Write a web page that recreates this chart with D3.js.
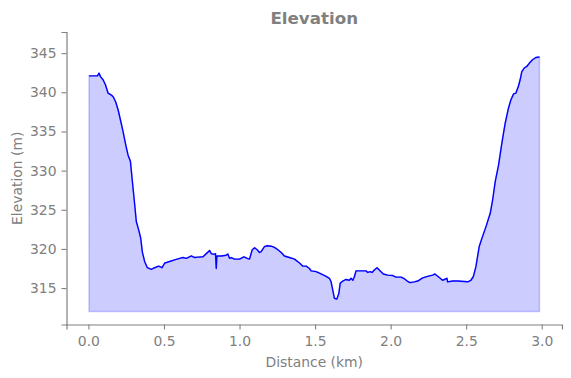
<!DOCTYPE html>
<html>
<head>
<meta charset="utf-8">
<script src="https://cdn.jsdelivr.net/npm/d3@7"></script>
<style>
  body { margin: 0; background: #fff; }
  text { font-family: "DejaVu Sans", sans-serif; fill: #808080; }
</style>
</head>
<body>
<div id="chart"></div>
<script>
// distance along the route (km)
const dist = [0.004, 0.06, 0.07, 0.08, 0.097, 0.112, 0.13, 0.155, 0.165, 0.18, 0.196, 0.214, 0.229, 0.247, 0.262, 0.278, 0.289, 0.302, 0.317, 0.333, 0.346, 0.357, 0.372, 0.39, 0.416, 0.438, 0.465, 0.487, 0.505, 0.522, 0.537, 0.57, 0.604, 0.626, 0.648, 0.681, 0.703, 0.725, 0.758, 0.78, 0.802, 0.813, 0.831, 0.841, 0.846, 0.85, 0.879, 0.912, 0.923, 0.934, 0.945, 0.967, 1.0, 1.029, 1.051, 1.066, 1.084, 1.1, 1.117, 1.132, 1.143, 1.165, 1.183, 1.21, 1.231, 1.254, 1.276, 1.297, 1.33, 1.364, 1.397, 1.419, 1.441, 1.463, 1.474, 1.507, 1.54, 1.573, 1.595, 1.606, 1.617, 1.628, 1.644, 1.657, 1.666, 1.683, 1.705, 1.727, 1.738, 1.75, 1.76, 1.771, 1.804, 1.837, 1.849, 1.864, 1.877, 1.892, 1.91, 1.93, 1.952, 1.981, 2.014, 2.036, 2.069, 2.09, 2.11, 2.128, 2.157, 2.179, 2.212, 2.245, 2.278, 2.293, 2.322, 2.344, 2.373, 2.377, 2.41, 2.443, 2.51, 2.531, 2.547, 2.564, 2.586, 2.604, 2.631, 2.659, 2.675, 2.692, 2.714, 2.736, 2.758, 2.78, 2.796, 2.814, 2.829, 2.846, 2.857, 2.868, 2.884, 2.901, 2.917, 2.939, 2.961, 2.985];
// elevation (m)
const elev = [342.1, 342.1, 342.45, 342.0, 341.6, 341.0, 339.9, 339.6, 339.4, 338.8, 337.8, 336.3, 335.0, 333.3, 332.0, 331.2, 329.0, 326.5, 323.5, 322.4, 321.4, 319.6, 318.4, 317.6, 317.4, 317.6, 317.8, 317.6, 318.2, 318.3, 318.4, 318.6, 318.8, 318.9, 318.8, 319.1, 318.9, 318.95, 319.0, 319.4, 319.8, 319.4, 319.3, 319.4, 317.5, 319.1, 319.1, 319.2, 319.35, 318.8, 318.9, 318.7, 318.7, 319.0, 318.8, 318.7, 319.9, 320.15, 319.9, 319.55, 319.65, 320.3, 320.4, 320.35, 320.2, 319.9, 319.55, 319.1, 318.9, 318.7, 318.2, 317.8, 317.8, 317.5, 317.2, 317.1, 316.8, 316.5, 316.25, 315.8, 314.75, 313.7, 313.6, 314.3, 315.6, 315.9, 316.1, 316.0, 316.25, 316.0, 316.45, 317.2, 317.2, 317.2, 317.0, 317.1, 317.0, 317.3, 317.6, 317.2, 316.8, 316.65, 316.6, 316.4, 316.4, 316.2, 315.9, 315.7, 315.8, 315.9, 316.3, 316.5, 316.65, 316.8, 316.35, 316.0, 316.25, 315.8, 315.9, 315.9, 315.8, 316.0, 316.45, 317.7, 320.3, 321.35, 322.85, 324.55, 326.25, 328.6, 330.7, 333.5, 336.05, 338.0, 339.05, 339.8, 339.9, 340.8, 341.6, 342.65, 343.1, 343.3, 343.7, 344.15, 344.45, 344.5];
const fillBase = 312;
const xTicks = [0, 0.5, 1.0, 1.5, 2.0, 2.5, 3.0];
const yTicks = [315, 320, 325, 330, 335, 340, 345];

const width = 571, height = 378;
const margin = { top: 32, right: 9, bottom: 53.5, left: 66.5 };

const svg = d3.select("#chart").append("svg")
    .attr("width", width)
    .attr("height", height);

// x: data extent padded by 5% each side, like matplotlib
const xPad = (dist[dist.length - 1] - dist[0]) * 0.05;
const x = d3.scaleLinear()
    .domain([dist[0] - xPad, dist[dist.length - 1] + xPad])
    .range([margin.left, width - margin.right]);

const y = d3.scaleLinear()
    .domain([310.35, 347.7])
    .range([height - margin.bottom, margin.top]);

const pts = dist.map((d, i) => ({ d: d, e: elev[i] }));

// filled area under the profile
svg.append("path")
    .datum(pts)
    .attr("d", d3.area().x(p => x(p.d)).y0(y(fillBase)).y1(p => y(p.e)))
    .attr("fill", "#ccccff")
    .attr("stroke", "rgba(0,0,255,0.2)")
    .attr("stroke-width", 1.5);

svg.append("path")
    .datum(pts)
    .attr("d", d3.line().x(p => x(p.d)).y(p => y(p.e)))
    .attr("fill", "none")
    .attr("stroke", "#0000ff")
    .attr("stroke-width", 1.4)
    .attr("stroke-linejoin", "round");

// axes
const xAxis = svg.append("g")
    .attr("transform", "translate(0," + (height - margin.bottom) + ")")
    .call(d3.axisBottom(x).tickValues(xTicks).tickFormat(d3.format(".1f")).tickSizeOuter(0).tickSize(5).tickPadding(7));

const yAxis = svg.append("g")
    .attr("transform", "translate(" + margin.left + ",0)")
    .call(d3.axisLeft(y).tickValues(yTicks).tickFormat(d3.format("d")).tickSizeOuter(0).tickSize(5).tickPadding(5));

[xAxis, yAxis].forEach(a => {
    a.select(".domain").attr("stroke", "#808080").attr("stroke-width", 1.2);
    a.selectAll(".tick line").attr("stroke", "#808080").attr("stroke-width", 1.1);
    a.selectAll(".tick text").style("font-size", "13.9px").style("fill", "#808080")
        .style("font-family", "DejaVu Sans, sans-serif");
});

// title and axis labels
svg.append("text")
    .attr("x", (margin.left + width - margin.right) / 2)
    .attr("y", 24)
    .attr("text-anchor", "middle")
    .style("font-size", "16.7px")
    .style("font-weight", "bold")
    .text("Elevation");

svg.append("text")
    .attr("x", (margin.left + width - margin.right) / 2)
    .attr("y", 367)
    .attr("text-anchor", "middle")
    .style("font-size", "13.9px")
    .text("Distance (km)");

svg.append("text")
    .attr("transform", "translate(22," + (margin.top + height - margin.bottom) / 2 + ") rotate(-90)")
    .attr("text-anchor", "middle")
    .style("font-size", "13.9px")
    .text("Elevation (m)");
</script>
</body>
</html>
